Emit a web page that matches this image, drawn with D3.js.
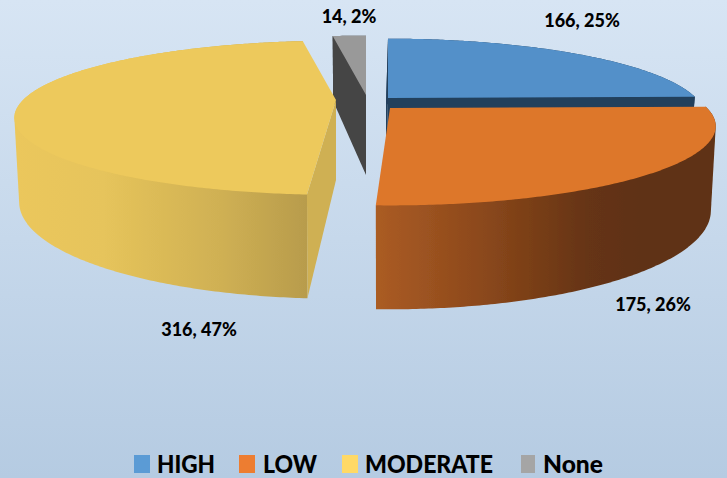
<!DOCTYPE html>
<html><head><meta charset="utf-8">
<script src="https://cdn.jsdelivr.net/npm/d3@7/dist/d3.min.js"></script>
<style>html,body{margin:0;padding:0;background:#c8d9ec}svg{display:block}</style>
</head><body><div id="chart"></div>
<script>
const categories = ["HIGH","LOW","MODERATE","None"];
const values = [166,175,316,14];
const legendColors = ["#5b9bd5","#ed7d31","#ffd966","#a5a5a5"];

const W=727,H=478;
const persp=0.23, depth=80, narrow=0.985;
// exploded position and projection of every slice
const layout=[
 {ax:388,ay:98,rx:308,ry:73,top:"#5290c9",wall:"#223f5c",walls:["end","start"],lean:2,order:1,trim0:0,trim1:0},
 {ax:390,ay:108,rx:317,ry:75,top:"#dd772c",wallGrad:"gLow",walls:[],lean:0,order:3,trim0:0,trim1:-0.017},
 {ax:336,ay:100,rx:313,ry:73,top:"#edc95c",wallGrad:"gMod",startWall:"#cfb053",walls:["start"],lean:0,order:2,trim0:0.02,trim1:0},
 {ax:366,ay:95,rx:313,ry:73,top:"#999999",wall:"#444444",startWall:"#444444",walls:["start"],lean:0,order:0,trim0:0,trim1:0}
];

const svg=d3.select("#chart").append("svg").attr("width",W).attr("height",H);
const defs=svg.append("defs");
const bg=defs.append("linearGradient").attr("id","bg").attr("x1",0).attr("x2",0).attr("y1",0).attr("y2",1);
[[0,"#d7e5f4"],[1,"#b5cbe2"]].forEach(s=>bg.append("stop").attr("offset",s[0]).attr("stop-color",s[1]));
function hGrad(id,x1,x2,stops){
  const g=defs.append("linearGradient").attr("id",id).attr("gradientUnits","userSpaceOnUse")
    .attr("x1",x1).attr("x2",x2).attr("y1",0).attr("y2",0);
  stops.forEach(s=>g.append("stop").attr("offset",s[0]).attr("stop-color",s[1]));
}
hGrad("gLow",375,716,[[0,"#ab5c24"],[0.3,"#8d491c"],[0.62,"#663412"],[0.8,"#5e3112"],[1,"#5e3112"]]);
hGrad("gMod",15,310,[[0,"#ebc75c"],[0.3,"#e6c45b"],[0.7,"#cfb053"],[1,"#b79b4c"]]);
defs.append("filter").attr("id","soft").append("feGaussianBlur").attr("stdDeviation",0.5);

svg.append("rect").attr("width",W).attr("height",H).attr("fill","url(#bg)");

const pie=d3.pie().sort(null).value(d=>d)(values);
const total=d3.sum(values);
const line=d3.line().x(d=>d[0]).y(d=>d[1]);

function topPt(L,a){
  const u=Math.sin(a),v=-Math.cos(a),s=1/(1-persp*v);
  return [L.ax+L.rx*u*s,L.ay+L.ry*v*s];
}
function botPt(L,a){
  const u=Math.sin(a),v=-Math.cos(a),s=1/(1-persp*v);
  return [L.ax-L.lean+L.rx*narrow*u*s,L.ay+L.ry*v*s+depth*s];
}
function arcPts(fn,L,a0,a1){
  const n=Math.max(2,Math.ceil((a1-a0)/0.01));
  return d3.range(n+1).map(i=>fn(L,a0+(a1-a0)*i/n));
}

const marks=svg.append("g").attr("filter","url(#soft)");
const order=d3.range(4).sort((a,b)=>layout[a].order-layout[b].order);
order.forEach(i=>{
  const L=layout[i],p=pie[i],g=marks.append("g");
  const a0=p.startAngle+L.trim0,a1=p.endAngle+L.trim1;
  const outer=arcPts(topPt,L,a0,a1);
  const lower=arcPts(botPt,L,a0,a1);
  const hull=d3.polygonHull(outer.concat(lower));
  g.append("path").attr("d",line(hull)+"Z")
    .attr("fill",L.wallGrad?`url(#${L.wallGrad})`:L.wall);
  L.walls.forEach(w=>{
    const a=w==="start"?a0:a1;
    const pts=[[L.ax,L.ay],topPt(L,a),botPt(L,a),[L.ax-L.lean,L.ay+depth]];
    g.append("path").attr("d",line(pts)+"Z").attr("fill",L.startWall||L.wall);
  });
  g.append("path").attr("d",line([[L.ax,L.ay]].concat(outer))+"Z").attr("fill",L.top);
});

// data labels
const labelPos=[[582,27],[653,311],[199,336],[349,23]];
const fmtPct=d3.format(".0%");
svg.append("g").selectAll("text").data(values).join("text")
  .attr("x",(d,i)=>labelPos[i][0]).attr("y",(d,i)=>labelPos[i][1])
  .attr("text-anchor","middle")
  .attr("font-family","Lato, sans-serif").attr("font-weight",900).attr("font-size",18)
  .attr("fill","#000")
  .text(d=>`${d}, ${fmtPct(d/total)}`);

// legend
const swatchX=[134,239,342,521],swatchW=[16,16,16,14],textX=[157,263,365,543],textW=[58,54,128,60];
const leg=svg.append("g");
leg.selectAll("rect").data(categories).join("rect")
  .attr("x",(d,i)=>swatchX[i]).attr("y",455).attr("width",(d,i)=>swatchW[i]).attr("height",18)
  .attr("fill",(d,i)=>legendColors[i]);
leg.selectAll("text").data(categories).join("text")
  .attr("x",(d,i)=>textX[i]).attr("y",473)
  .attr("textLength",(d,i)=>textW[i]).attr("lengthAdjust","spacingAndGlyphs")
  .attr("font-family","Lato, sans-serif").attr("font-weight",900).attr("font-size",25)
  .attr("fill","#000").text(d=>d);
</script></body></html>
